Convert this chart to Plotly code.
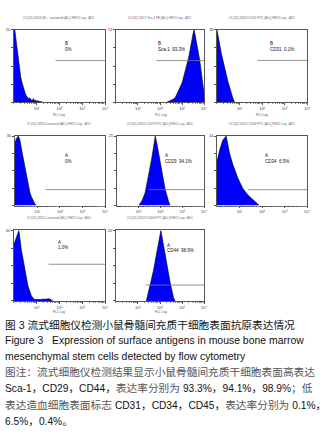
import numpy as np
import plotly.graph_objects as go

W, H = 325, 433

# ---------------- data (x in log10 channel units, y in counts) ----------------
p1_log = [0.00, 0.05, 0.10, 0.15, 0.20, 0.25, 0.30, 0.35, 0.40, 0.45, 0.50, 0.55, 0.60, 0.65, 0.70, 0.75, 0.80, 0.85, 0.90, 1.00, 1.10, 1.20, 1.30]
p1_cnt = [22, 19.5, 17, 14, 11, 8.6, 7.0, 5.6, 4.4, 3.4, 2.4, 1.8, 1.4, 1.0, 1.2, 0.8, 0.4, 1.0, 0.6, 0.4, 0.2, 0.1, 0]

p2_log = [2.30, 2.40, 2.50, 2.60, 2.70, 2.80, 2.90, 3.00, 3.05, 3.10, 3.20, 3.30, 3.35, 3.40, 3.45, 3.50, 3.55, 3.60, 3.65, 3.70, 3.75, 3.80, 3.90, 3.95, 4.00]
p2_cnt = [0, 0.15, 0.3, 0.5, 0.85, 1.6, 2.4, 3.2, 3.9, 4.5, 6.0, 7.4, 8.6, 9.1, 10.2, 11.4, 12.0, 11.0, 10.2, 9.0, 8.3, 7.0, 4.2, 2.6, 1.4]

p3_log = [0.00, 0.06, 0.12, 0.19, 0.26, 0.33, 0.41, 0.48, 0.56, 0.63, 0.70, 0.78]
p3_cnt = [18, 16.5, 14.4, 12.2, 10.3, 8.5, 7.0, 5.3, 3.6, 2.2, 1.1, 0]

p4_log = [0.00, 0.07, 0.15, 0.22, 0.29, 0.37, 0.44, 0.51, 0.59, 0.66, 0.73, 0.80, 0.88, 0.95]
p4_cnt = [27, 29, 30, 28.5, 24.6, 20.4, 16.5, 12.6, 9.0, 6.0, 3.9, 2.1, 0.9, 0.15]

p5_log = [1.00, 1.15, 1.30, 1.45, 1.61, 1.68, 1.76, 1.83, 1.91, 2.06, 2.21, 2.36, 2.44]
p5_cnt = [0, 1.75, 4.75, 10.5, 17.5, 21.0, 25.0, 22.5, 18.75, 11.75, 6.0, 1.75, 0]

p6_log = [0.00, 0.12, 0.26, 0.41, 0.56, 0.70, 0.92, 1.14, 1.36, 1.58, 1.73, 1.88]
p6_cnt = [8.8, 11.2, 13.2, 14.0, 10.5, 8.3, 5.6, 3.5, 2.2, 1.3, 0.6, 0]

p7_log = [0.00, 0.12, 0.22, 0.33, 0.48, 0.62, 0.77, 0.91, 1.13, 1.42, 1.57, 1.71]
p7_cnt = [32, 36, 40, 28.8, 18, 8.4, 2.8, 0.8, 0.8, 1.2, 1.2, 0]

p8_log = [1.38, 1.56, 1.71, 1.86, 1.93, 2.04, 2.16, 2.31, 2.46, 2.61, 2.68]
p8_cnt = [0, 4.6, 8.8, 14.0, 16.8, 20.0, 15.8, 10.2, 5.2, 1.0, 0]

ymax = [20, 12, 18, 30, 25, 14, 40, 20]
ymax_labels = ["20", "12", "18", "30", "25", "14", "40", "20"]
gate_names = ["B", "B", "B", "A", "A", "A", "A", "A"]
gate_text = ["0%", "Sca-1  93.3%", "CD31  0.1%", "0%", "CD29  94.1%", "CD34  6.5%", "1.0%", "CD44  98.9%"]
gate_from = [1.83, 1.84, 1.80, 1.36, 1.45, 1.36, 1.52, 1.35]
gate_level = [11.5, 6.9, 10.4, 6.9, 5.75, 3.2, 20.8, 4.5]
headers = [
    "07-[02]-18116 (B) -- unstained [ALL] FMC5 Log - ADC",
    "07-[02]-18117 Sca-1 PE [ALL] FMC5 Log - ADC",
    "07-[02]-18118 CD31 FITC [ALL] FMC5 Log - ADC",
    "07-[02]-18119 unstained [ALL] FMC5 Log - ADC",
    "07-[02]-18120 CD29 FITC [ALL] FMC5 Log - ADC",
    "07-[02]-18121 CD34 FITC [ALL] FMC5 Log - ADC",
    "07-[02]-18122 unstained [ALL] FMC5 Log - ADC",
    "07-[02]-18123 CD44 FITC [ALL] FMC5 Log - ADC",
]
tick_pos = [10, 100, 1000, 10000]
tick_text = ["10\u00b9", "10\u00b2", "10\u00b3", "10\u2074"]

series = [(p1_log, p1_cnt), (p2_log, p2_cnt), (p3_log, p3_cnt), (p4_log, p4_cnt),
          (p5_log, p5_cnt), (p6_log, p6_cnt), (p7_log, p7_cnt), (p8_log, p8_cnt)]

# ---------------- layout (pixel boxes: left, right, top, bottom) ----------------
boxes = [(14, 106, 27, 100), (117, 206, 27, 100), (219, 310, 27, 100),
         (15, 106, 134, 204), (118, 206, 134, 204), (219, 310, 134, 204),
         (14, 106, 229, 300), (117, 206, 229, 300)]
label_pos = [(64, 41), (157, 41), (270, 41), (64, 154), (165, 154), (265, 154), (57, 241), (167, 244)]


def px(x):
    return x / W


def py(y):
    return 1 - y / H


fig = go.Figure()
layout = dict(width=W, height=H, margin=dict(l=0, r=0, t=0, b=0),
              paper_bgcolor="white", plot_bgcolor="white", showlegend=False)
annotations = []
small = "Liberation Sans, Arial, sans-serif"

for i, ((lg, ct), (l, r, t, b)) in enumerate(zip(series, boxes)):
    k = i + 1
    xa = "x" if k == 1 else f"x{k}"
    ya = "y" if k == 1 else f"y{k}"
    xs = [10 ** v for v in lg]
    fig.add_trace(go.Scatter(x=xs, y=ct, xaxis=xa, yaxis=ya, mode="lines",
                             line=dict(color="black", width=0.6, shape="linear"),
                             fill="tozeroy", fillcolor="#0000FF", hoverinfo="skip"))
    # gate marker line
    fig.add_trace(go.Scatter(x=[10 ** gate_from[i], 10 ** 4], y=[gate_level[i], gate_level[i]],
                             xaxis=xa, yaxis=ya, mode="lines",
                             line=dict(color="#777777", width=0.8), hoverinfo="skip"))
    layout[f"xaxis{k if k > 1 else ''}"] = dict(
        domain=[px(l), px(r)], anchor=ya, type="log", range=[0, 4],
        tickmode="array", tickvals=tick_pos, ticktext=tick_text,
        ticks="outside", ticklen=2, tickwidth=0.6, tickcolor="#555",
        tickfont=dict(size=4, color="#444", family=small),
        minor=dict(ticks="outside", ticklen=1, tickwidth=0.5, tickcolor="#888", dtick="D1"),
        showline=True, linecolor="#555", linewidth=0.7, mirror=True,
        showgrid=False, zeroline=False, fixedrange=True)
    layout[f"yaxis{k if k > 1 else ''}"] = dict(
        domain=[py(b), py(t)], anchor=xa, range=[0, ymax[i]],
        tickmode="array", tickvals=[0, ymax[i] * 0.25, ymax[i] * 0.5, ymax[i] * 0.75, ymax[i]],
        ticktext=["", "", "", "", ymax_labels[i]],
        ticks="outside", ticklen=2, tickwidth=0.6, tickcolor="#555",
        tickfont=dict(size=4, color="#333", family=small),
        showline=True, linecolor="#555", linewidth=0.7, mirror=True,
        showgrid=False, zeroline=False, fixedrange=True)
    # header
    annotations.append(dict(x=px((l + r) / 2), y=py(t - 12), xref="paper", yref="paper",
                            text=headers[i], showarrow=False, xanchor="center", yanchor="middle",
                            font=dict(size=3, color="#666", family=small)))
    # gate labels
    lx, ly = label_pos[i]
    annotations.append(dict(x=px(lx), y=py(ly), xref="paper", yref="paper", text=gate_names[i],
                            showarrow=False, xanchor="left", yanchor="middle",
                            font=dict(size=4.5, color="#111", family=small)))
    annotations.append(dict(x=px(lx), y=py(ly + 5.5), xref="paper", yref="paper", text=gate_text[i],
                            showarrow=False, xanchor="left", yanchor="middle",
                            font=dict(size=4.5, color="#111", family=small)))

# x-axis titles
for (xc, yc) in [(60, 113), (162, 113), (264, 113), (60, 311), (162, 311)]:
    annotations.append(dict(x=px(xc), y=py(yc), xref="paper", yref="paper", text="FL1 Log",
                            showarrow=False, xanchor="center", yanchor="middle",
                            font=dict(size=3.2, color="#555", family=small)))

cap_font = "Liberation Sans, Arial, Noto Sans CJK SC, sans-serif"
gray = "#555555"


def lat(s):
    return f"<span style='font-size:10.2px'>{s}</span>"


def zh(s):
    return f"<span style='color:{gray}'>{s}</span>"


caption = [
    (324, "图 3 流式细胞仪检测小鼠骨髓间充质干细胞表面抗原表达情况", "#111", 10.7),
    (340, "Figure 3   Expression of surface antigens in mouse bone marrow", "#111", 10.45),
    (356, "mesenchymal stem cells detected by flow cytometry", "#111", 10.45),
    (372, zh("图注：流式细胞仪检测结果显示小鼠骨髓间充质干细胞表面高表达"), "#111", 10.7),
    (388, lat("Sca-1") + "，" + lat("CD29") + "，" + lat("CD44") + "，" + zh("表达率分别为") + " "
     + lat("93.3%") + "，" + lat("94.1%") + "，" + lat("98.9%") + zh("；低"), "#111", 10.7),
    (405, zh("表达造血细胞表面标志") + " " + lat("CD31") + "，" + lat("CD34") + "，" + lat("CD45") + "，"
     + zh("表达率分别为") + " " + lat("0.1%") + "，", "#111", 10.7),
    (421, lat("6.5%") + "，" + lat("0.4%") + "。", "#111", 10.7),
]
for y, txt, col, sz in caption:
    annotations.append(dict(x=px(3), y=py(y), xref="paper", yref="paper", text=txt,
                            showarrow=False, xanchor="left", yanchor="middle",
                            font=dict(size=sz, color=col, family=cap_font)))

layout["annotations"] = annotations
fig.update_layout(**layout)
fig.write_html("out.html", config={"displayModeBar": False},
               post_script="document.body.style.margin='0';document.body.style.overflow='hidden';")
